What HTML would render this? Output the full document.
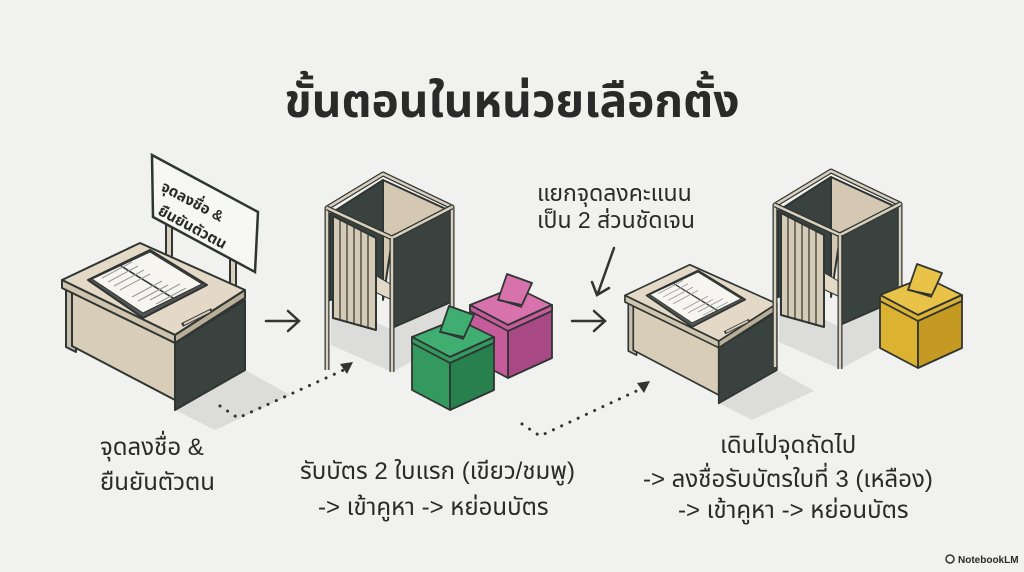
<!DOCTYPE html>
<html><head><meta charset="utf-8"><style>
html,body{margin:0;padding:0;background:#f1f1ef;}
svg{display:block}
text{font-family:"Liberation Sans","Noto Sans Thai","Tlwg Typo","Loma",sans-serif;fill:#2a2a2a}
</style></head><body>
<svg width="1024" height="572" viewBox="0 0 1024 572" xmlns="http://www.w3.org/2000/svg">
<rect width="1024" height="572" fill="#f1f1ef"/>
<defs>
<g id="desk" stroke="#2f3532" stroke-width="2" stroke-linejoin="round">
  <polygon points="175,410 245,370 290,395 215,430" fill="#dcdcda" stroke="none"/>
  <polygon points="66,286 76,291 76,352 66,347" fill="#c9bfae"/>
  <polygon points="72,290 175,343 175,400 72,346" fill="#d8cdb8"/>
  <polygon points="175,343 245,300 245,370 175,410" fill="#39423f"/>
  <polygon points="62,280 140,243 245,290 175,335" fill="#e3d9c6"/>
  <polygon points="62,280 175,335 175,343 62,288" fill="#cfc4ae"/>
  <polygon points="175,335 245,290 245,298 175,343" fill="#b9ae98"/>
  <polygon points="88,280 150,250 207,285 143,318" fill="#555" />
  <polygon points="92,279 150,252 202,284 143,313" fill="#f6f5f0" stroke-width="1"/>
  <line x1="121" y1="266" x2="173" y2="298" stroke-width="1.5"/>
  <g stroke="#999" stroke-width="1">
   <line x1="102" y1="278" x2="132" y2="262"/><line x1="108" y1="282" x2="138" y2="266"/><line x1="114" y1="286" x2="144" y2="270"/><line x1="120" y1="290" x2="150" y2="274"/><line x1="132" y1="297" x2="162" y2="281"/><line x1="138" y1="301" x2="168" y2="285"/><line x1="150" y1="300" x2="180" y2="284"/><line x1="156" y1="304" x2="186" y2="288"/>
  </g>
  <line x1="182" y1="325" x2="212" y2="310" stroke-width="4" stroke="#3a3a3a"/>
  <line x1="184" y1="324" x2="210" y2="311" stroke-width="2" stroke="#d9cfbd"/>
</g>
<g id="booth" stroke="#2f3532" stroke-width="2" stroke-linejoin="round">
  <polygon points="331,300 392,330 452,300 452,340 392,372 331,345" fill="#dcdcda" stroke="none"/>
  <polygon points="330,214 383,180 383,285 330,300" fill="#39423f"/>
  <polygon points="383,180 448,210 392,240 383,300" fill="#d4c8b3"/>
  <polygon points="375,275 392,285 392,300 375,292" fill="#e3d9c6" stroke-width="1"/>
  <polygon points="392,236 451,208 451,302 392,328" fill="#39423f"/>
  <polygon points="333,216 376,238 376,330 333,318" fill="#d6cbb6"/>
  <g stroke-width="1.2"><line x1="340" y1="220" x2="340" y2="320"/><line x1="347" y1="224" x2="347" y2="323"/><line x1="354" y1="227" x2="354" y2="325"/><line x1="361" y1="231" x2="361" y2="327"/><line x1="368" y1="234" x2="368" y2="329"/></g>
  <polyline points="327,370 327,208 383,174 452,207 452,320" fill="none" stroke-width="5"/>
  <polyline points="327,370 327,208 383,174 452,207 452,320" fill="none" stroke="#d9cfbd" stroke-width="2.5"/>
  <polyline points="327,208 392,238 452,207" fill="none" stroke-width="5"/>
  <polyline points="327,208 392,238 452,207" fill="none" stroke="#d9cfbd" stroke-width="2.5"/>
  <line x1="392" y1="238" x2="392" y2="372" stroke-width="5"/>
  <line x1="392" y1="238" x2="392" y2="372" stroke="#d9cfbd" stroke-width="2.5"/>
</g>
<g id="box" stroke="#2f3532" stroke-width="1.8" stroke-linejoin="round">
  <polygon points="470,305 515,287 552,305 508,325" fill="var(--t)"/>
  <polygon points="470,305 508,325 508,378 470,358" fill="var(--l)"/>
  <polygon points="508,325 552,305 552,358 508,378" fill="var(--r)"/>
  <polygon points="470,305 508,325 552,305 552,311 508,331 470,311" fill="var(--l)"/>
  <polygon points="498,300 507,274 532,283 522,305" fill="var(--t)"/>
  <line x1="500" y1="300" x2="522" y2="307"/>
</g>
</defs>

<text x="512" y="117" text-anchor="middle" font-size="46" font-weight="bold">ขั้นตอนในหน่วยเลือกตั้ง</text>

<!-- sign -->
<g stroke="#2f3532" stroke-width="2">
 <rect x="166" y="220" width="6" height="42" fill="#d9cfbd"/>
 <rect x="230" y="245" width="6" height="45" fill="#d9cfbd"/>
 <polygon points="152,155 258,212 255,272 153,217" fill="#f7f7f5" stroke-width="2.5"/>
</g>
<text transform="translate(160,190) rotate(28)" font-size="15" font-weight="bold">จุดลงชื่อ &amp;</text>
<text transform="translate(157,214) rotate(28)" font-size="15" font-weight="bold">ยืนยันตัวตน</text>

<use href="#desk"/>
<use href="#booth"/>
<use href="#box" style="--t:#d872ad;--l:#c55b9b;--r:#a84884"/>
<use href="#box" transform="translate(-58,32)" style="--t:#3fae70;--l:#33995f;--r:#27804d"/>

<use href="#desk" transform="translate(573.5,63) scale(0.83)"/>
<use href="#booth" transform="translate(448,-3)"/>
<use href="#box" transform="translate(410,-10)" style="--t:#e9c248;--l:#dcb233;--r:#c49a22"/>

<!-- arrows -->
<g stroke="#333" stroke-width="2.5" fill="none" stroke-linecap="round">
 <line x1="266" y1="321" x2="298" y2="321"/><polyline points="288,311 299,321 288,331"/>
 <line x1="572" y1="321" x2="604" y2="321"/><polyline points="594,311 605,321 594,331"/>
 <line x1="614" y1="248" x2="598" y2="293"/><polyline points="592,282 597,295 609,288"/>
</g>
<g stroke="#333" stroke-width="3" fill="none" stroke-dasharray="0.1 9" stroke-linecap="round">
 <polyline points="220,406 238,418 348,368"/>
 <polyline points="522,424 540,436 645,387"/>
</g>
<g fill="#333"><polygon points="353,362 340,364 347,374"/><polygon points="650,381 637,383 644,393"/></g>

<text x="537" y="201" font-size="23">แยกจุดลงคะแนน</text>
<text x="537" y="228" font-size="23">เป็น 2 ส่วนชัดเจน</text>

<text x="100" y="455" font-size="24">จุดลงชื่อ &amp;</text>
<text x="100" y="490" font-size="24">ยืนยันตัวตน</text>
<text x="300" y="479" font-size="24">รับบัตร 2 ใบแรก (เขียว/ชมพู)</text>
<text x="318" y="515" font-size="24">-&gt; เข้าคูหา -&gt; หย่อนบัตร</text>
<text x="720" y="453" font-size="24">เดินไปจุดถัดไป</text>
<text x="643" y="487" font-size="24">-&gt; ลงชื่อรับบัตรใบที่ 3 (เหลือง)</text>
<text x="678" y="518" font-size="24">-&gt; เข้าคูหา -&gt; หย่อนบัตร</text>

<text x="958" y="563" font-size="10" font-weight="bold">NotebookLM</text>
<circle cx="950" cy="559" r="4" fill="none" stroke="#333" stroke-width="1.5"/>
</svg>
</body></html>
